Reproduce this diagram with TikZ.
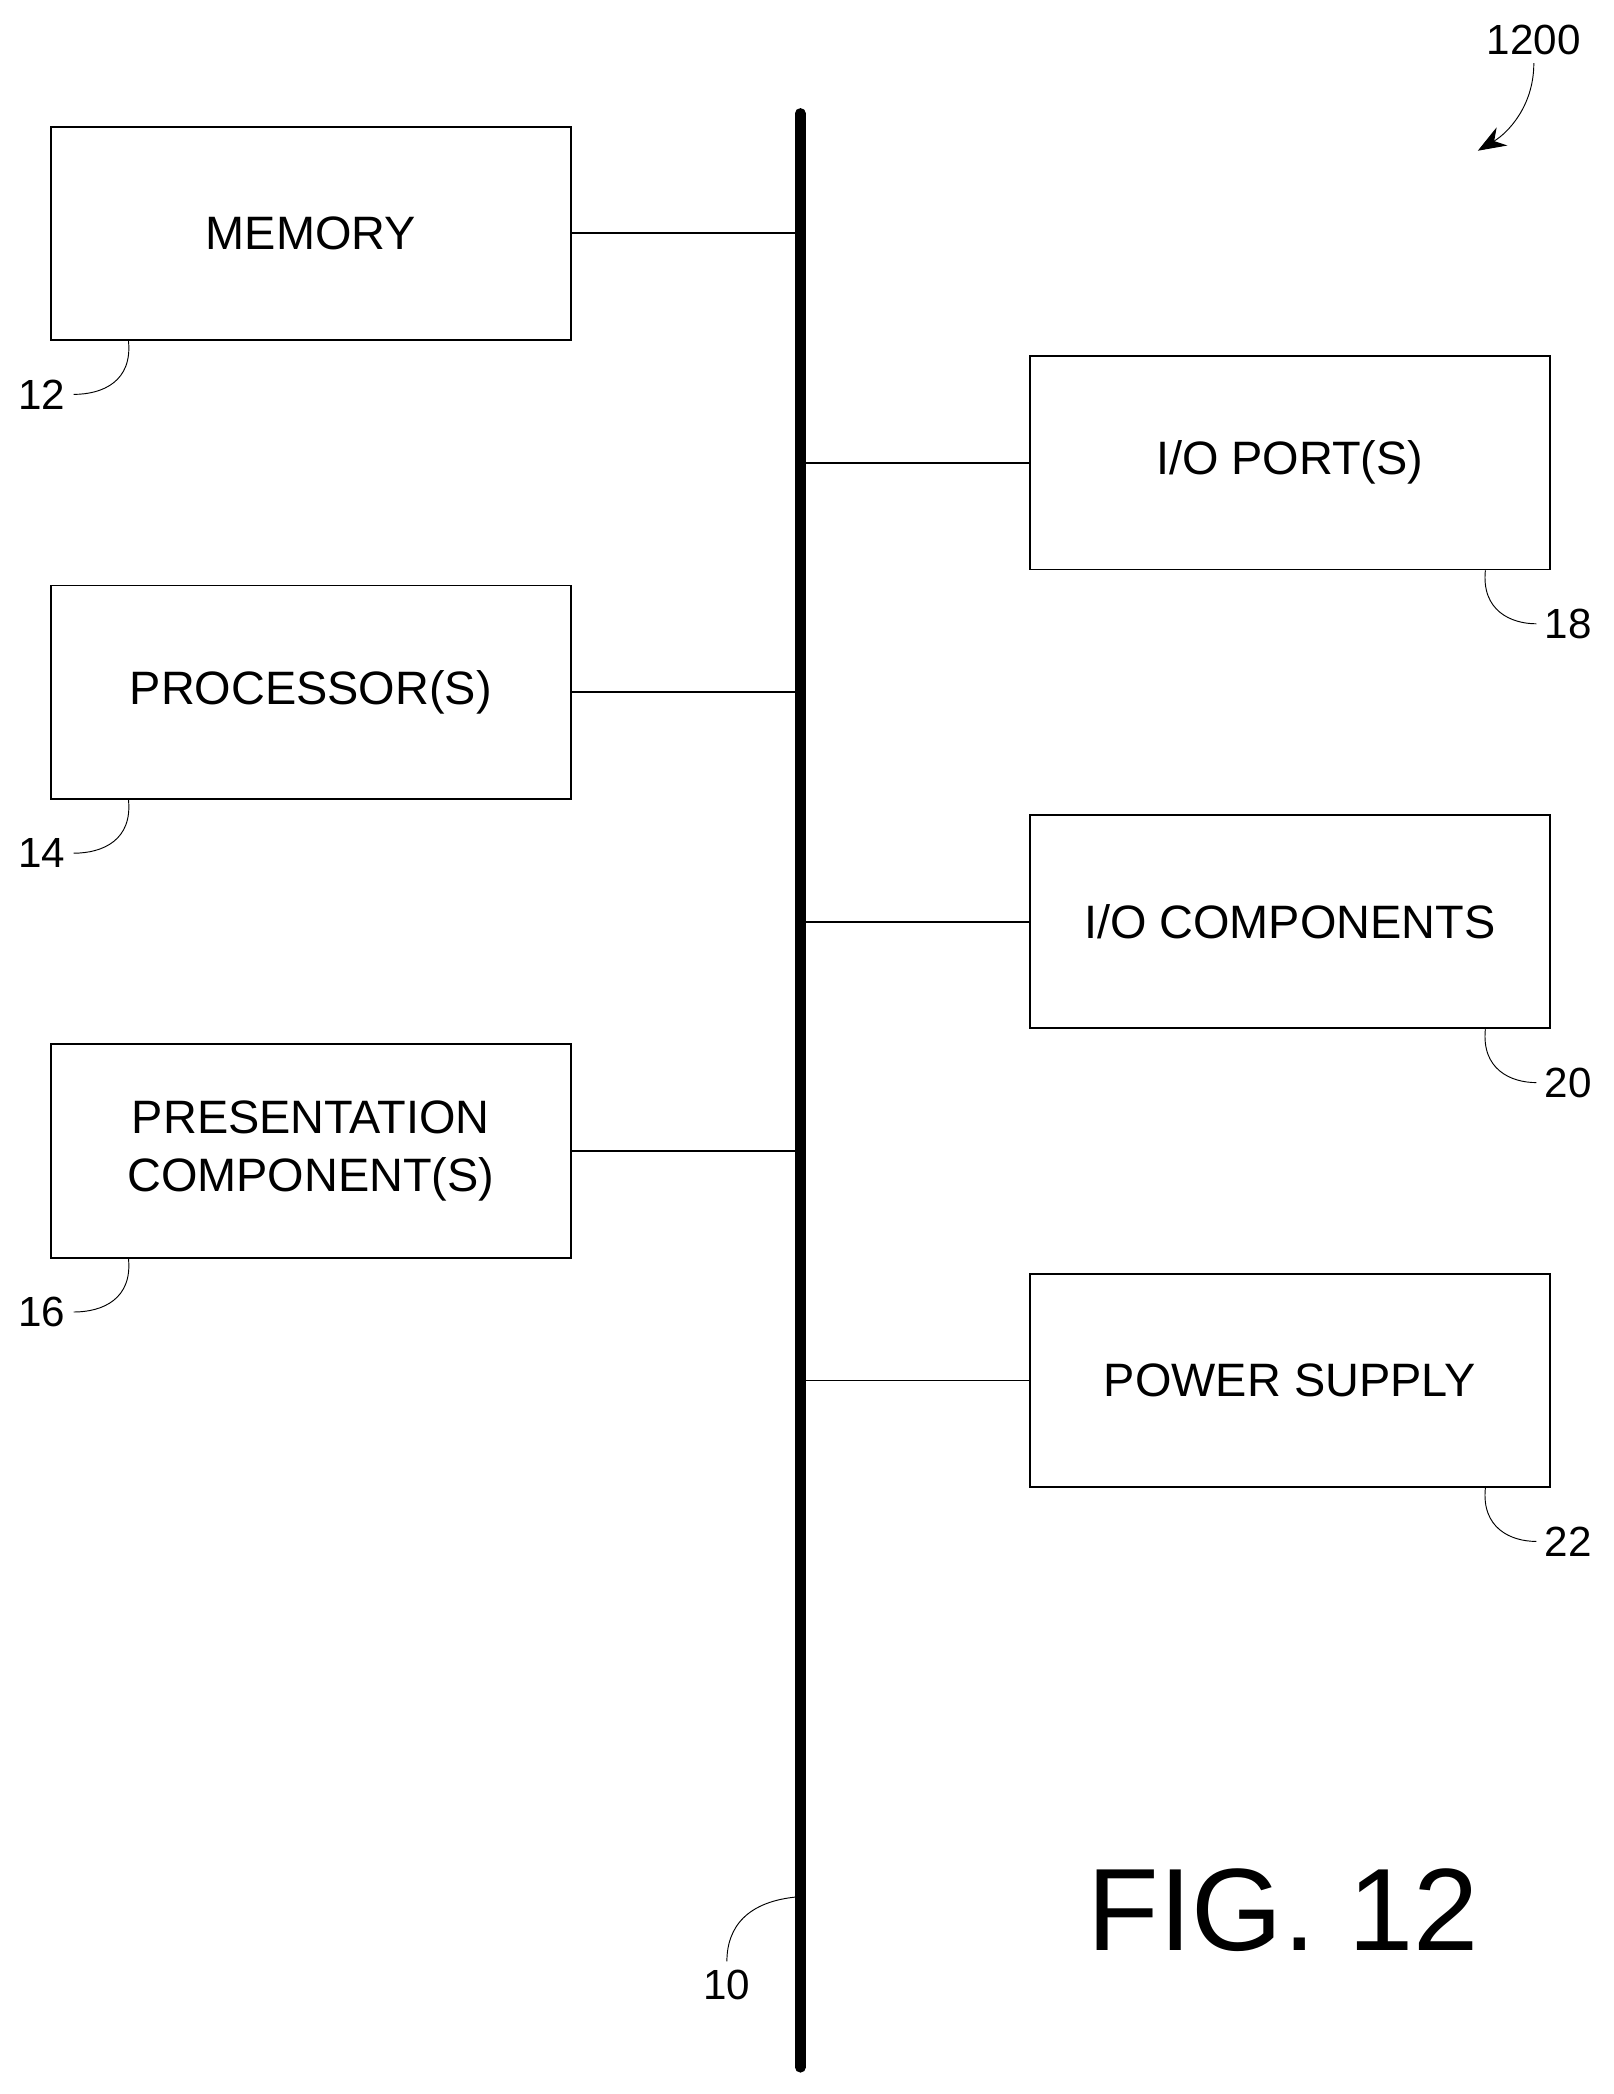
\documentclass[tikz,border=0pt]{standalone}
\usepackage{fontspec}
\setmainfont{Liberation Sans}
\usetikzlibrary{calc, arrows.meta}

\begin{document}
\begin{tikzpicture}[x=0.02cm, y=-0.02cm,
    box/.style={draw, thick, minimum width=7.8cm, minimum height=3.2cm, align=center, font=\fontsize{20}{25}\selectfont},
    ref/.style={font=\fontsize{18}{22}\selectfont},
    lead/.style={thin}]
    \useasboundingbox (0,0) rectangle (1210,1570);

    % Bus
    \coordinate (bustop) at (600,85);
    \coordinate (busbot) at (600,1550);
    \draw[line width=4.5pt, line cap=round] (bustop) -- (busbot);

    % Left boxes
    \node[box] (mem) at (233,175) {MEMORY};
    \node[box] (proc) at (233,519) {PROCESSOR(S)};
    \node[box] (pres) at (233,863) {PRESENTATION\\COMPONENT(S)};

    % Right boxes
    \node[box] (port) at (967,347) {I/O PORT(S)};
    \node[box] (ioc) at (967,691) {I/O COMPONENTS};
    \node[box] (pow) at (967,1035) {POWER SUPPLY};

    % Connectors to bus
    \foreach \n in {mem, proc, pres} \draw[thick] (\n.east) -- (\n.east -| bustop);
    \foreach \n in {port, ioc, pow} \draw[thick] (\n.west) -- (\n.west -| bustop);

    % Reference numerals
    \foreach \n/\t in {mem/12, proc/14, pres/16} {
        \node[ref] (l\t) at ($(\n.south west)+(-6,40)$) {\t};
        \draw[lead] ($(\n.south west)+(59,0)$) .. controls ($(\n.south west)+(62,30)$) and ($(\n.south west)+(40,40)$) .. (l\t.east);
    }
    \foreach \n/\t in {port/18, ioc/20, pow/22} {
        \node[ref] (l\t) at ($(\n.south east)+(13,40)$) {\t};
        \draw[lead] ($(\n.south east)+(-49,0)$) .. controls ($(\n.south east)+(-52,30)$) and ($(\n.south east)+(-30,40)$) .. (l\t.west);
    }
    \node[ref] (l10) at (545,1488) {10};
    \draw[lead] (bustop |- 0,1422) .. controls (560,1425) and (545,1445) .. (l10.north);

    % Figure number
    \node[ref] (l1200) at (1150,30) {1200};
    \draw[lead, -{Stealth[length=12pt, width=9pt]}] (l1200.south) .. controls (1150,80) and (1130,100) .. (1108,113);

    \node[font=\fontsize{50}{60}\selectfont] (fig) at (962,1432) {FIG. 12};
\end{tikzpicture}
\end{document}
